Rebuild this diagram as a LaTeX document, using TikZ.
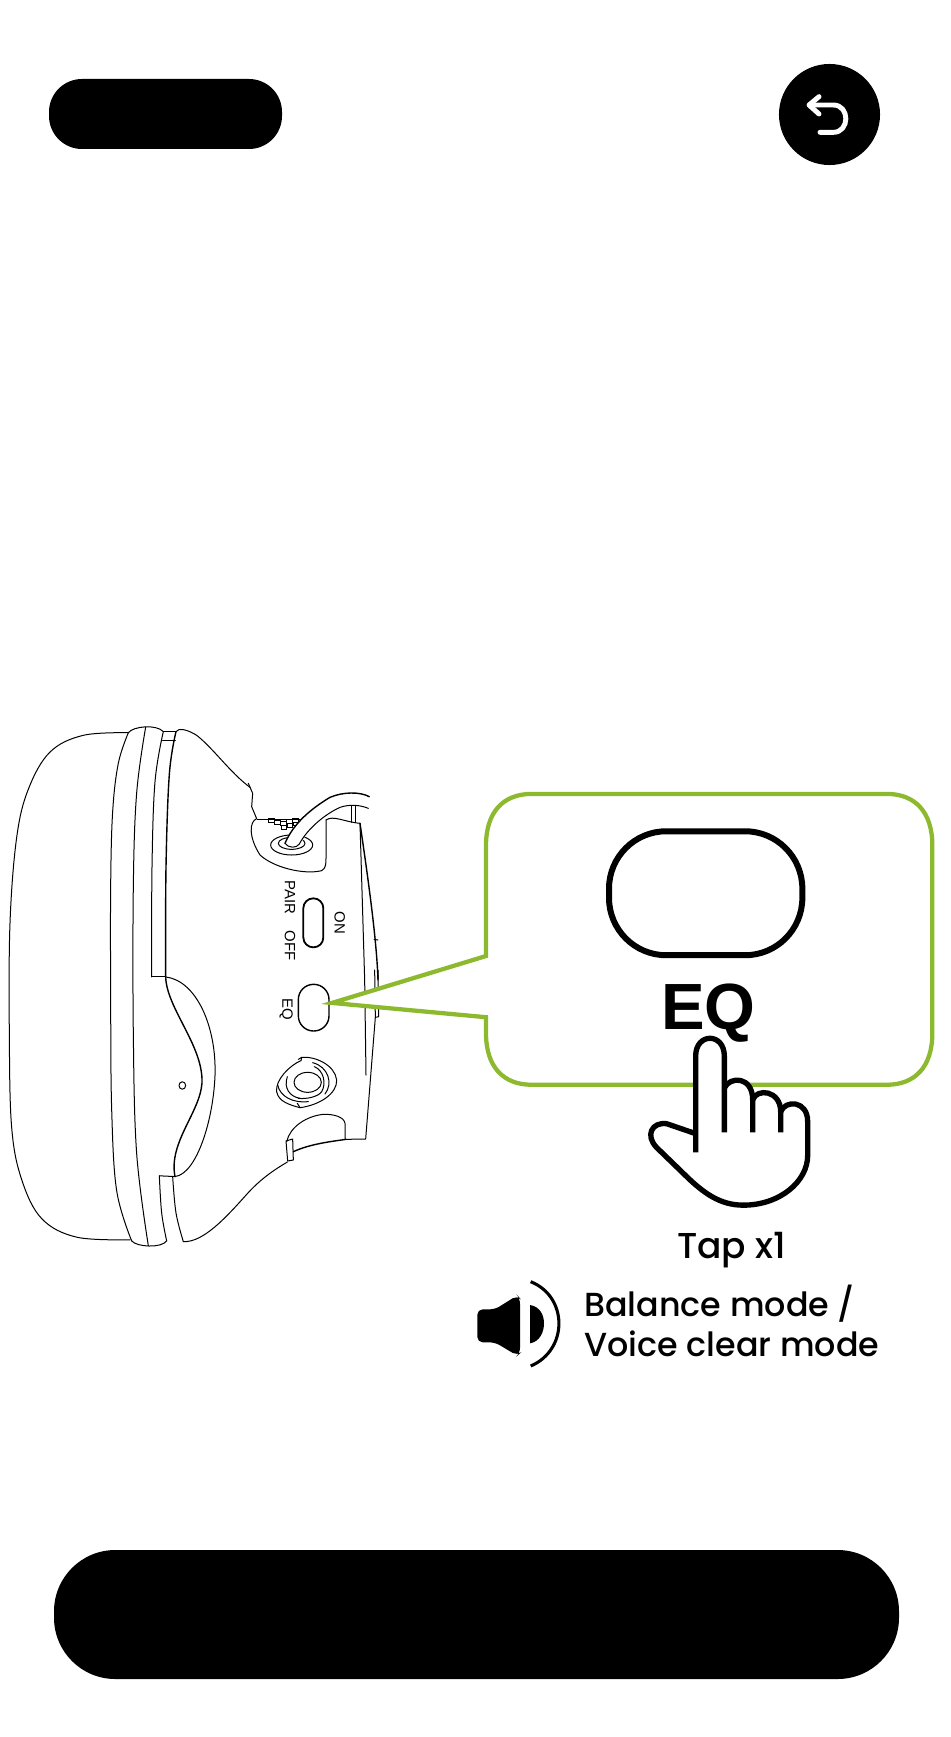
\documentclass[tikz,border=0pt]{standalone}
\usepackage{fontspec}
\setmainfont{Liberation Sans}
\newfontfamily\pop{Poppins Medium}
\definecolor{calloutgreen}{HTML}{8DB92E}
\tikzset{
  thin line/.style={line width=0.75pt,black,line join=round,line cap=round},
  mid line/.style={line width=1.05pt,black,line join=round,line cap=round},
  hand line/.style={line width=4pt,black,line cap=butt,line join=round},
  small label/.style={font=\fontsize{11.2pt}{12pt}\selectfont,rotate=-90,inner sep=0pt},
  z1/.style={shift={(0,700)},x=0.25pt,y=-0.2788pt},
  z2/.style={shift={(460,780)},x=0.25pt,y=-0.298pt},
  uni/.style={x=0.25pt,y=-0.25pt}
}
\begin{document}
\begin{tikzpicture}[x=0.75pt,y=-0.75pt]
\useasboundingbox (0,0) rectangle (950,1737);
\fill[white] (0,0) rectangle (950,1737);
% top bar, back button, bottom bar
\fill[black,rounded corners=24.75pt] (49,79) rectangle (282,149);
\fill[black] (829.5,114.5) circle[radius=37.9pt];
\begin{scope}[shift={(770,55)},uni]
\draw[white,line width=3.7pt,line cap=round,line join=round] (147,125) -- (117,150) -- (147,177);
\draw[white,line width=3.7pt,line cap=round,line join=round] (120,150) -- (190,150) .. controls (240,150) and (240,232) .. (190,232) -- (150,232);
\end{scope}
\fill[black,rounded corners=46pt] (54,1550) rectangle (899,1679);
% headphone, main outline (zoom-1 coordinates)
\begin{scope}[z1]
\draw[thin line] plot[smooth,tension=0.6] coordinates {(385,88) (250,95) (150,140) (85,240) (50,370) (30,600) (28,900) (35,1150) (65,1290) (125,1395) (230,1445) (390,1452)};
\draw[thin line] plot[smooth,tension=0.6] coordinates {(385,88) (355,170) (338,300) (332,500) (332,800) (335,1100) (350,1320) (395,1455)};
\draw[thin line] (385,88) .. controls (400,70) and (470,65) .. (490,85);
\draw[thin line] (395,1455) .. controls (410,1472) and (485,1475) .. (500,1455);
\draw[thin line] plot[smooth,tension=0.6] coordinates {(437,73) (410,250) (400,500) (400,900) (410,1220) (445,1468)};
\draw[thin line] plot[smooth,tension=0.6] coordinates {(490,85) (465,220) (456,450) (455,745)};
\draw[thin line] plot[smooth,tension=0.6] coordinates {(478,1280) (485,1380) (500,1455)};
\draw[thin line] (490,85) -- (528,85) (488,108) -- (526,108);
\draw[mid line] plot[smooth,tension=0.6] coordinates {(528,85) (508,200) (498,450) (497,745)};
\draw[thin line] (455,745) -- (497,745);
\draw[thin line] (497,745) .. controls (590,755) and (650,880) .. (645,1010) .. controls (640,1130) and (590,1275) .. (525,1282) -- (478,1280);
\draw[mid line] (497,745) .. controls (500,830) and (610,930) .. (606,1030) .. controls (600,1110) and (505,1190) .. (525,1282);
\draw[thin line] plot[smooth,tension=0.6] coordinates {(518,1282) (528,1380) (550,1457)};
\draw[thin line] (528,85) .. controls (535,75) and (560,78) .. (590,95) .. controls (640,130) and (690,195) .. (750,235);
\draw[thin line] (550,1457) .. controls (610,1460) and (680,1390) .. (740,1330) .. controls (780,1290) and (820,1265) .. (862,1243);
\draw[thin line] (547,1037) ellipse[x radius=10,y radius=10];
\end{scope}
% upper details (zoom-4 coordinates)
\begin{scope}[shift={(240,780)},uni]
\draw[thin line] (25,10) -- (38,40) -- (35,80) -- (50,116) .. controls (28,125) and (25,170) .. (60,225) .. controls (100,262) and (190,285) .. (245,272) .. controls (258,265) and (258,250) .. (258,235) -- (258,120);
\draw[thin line] (52,117) -- (180,117);
\draw[thin line] (258,120) .. controls (280,105) and (310,125) .. (360,130);
\foreach \gx/\gy in {86/116,104/121,122/124,140/118,158/116,124/136,142/130,160/126}
  \draw[line width=0.6pt] (\gx,\gy) rectangle ++(16,11);
\draw[thin line,fill=white] (155,195) ellipse[x radius=63,y radius=30];
\draw[thin line] (155,190) ellipse[x radius=40,y radius=18];
\fill[white] (135,195) .. controls (160,130) and (220,75) .. (300,50) -- (340,75) .. controls (260,90) and (205,140) .. (178,200) -- cycle;
\draw[mid line] (135,190) .. controls (160,130) and (215,85) .. (270,52) .. controls (310,35) and (360,35) .. (388,50);
\draw[thin line] (178,192) .. controls (200,150) and (250,105) .. (300,82) .. controls (330,72) and (360,75) .. (385,85);
\draw[thin line] (135,190) .. controls (145,205) and (170,205) .. (178,192);
\draw[thin line] (335,78) -- (335,127) (347,77) -- (347,128);
\draw[thin line] (360,130) -- (374,600);
\draw[mid line] (360,130) .. controls (385,300) and (410,480) .. (414,600);
\draw[thin line] (402,478) -- (414,480);
\node[small label,anchor=west] (pair) at (149.7,300) {PAIR};
\node[small label,anchor=west] (off) at (149.7,451) {OFF};
\node[small label,anchor=west] (on) at (299,395) {ON};
\draw[line width=1.35pt,black,rounded corners=7.4pt] (190,355) rectangle (250,502);
\end{scope}
% lower details (zoom-5 coordinates)
\begin{scope}[shift={(240,970)},uni]
\draw[thin line] (374,30) -- (378,315);
\draw[thin line] (404,0) -- (406,142) -- (416,140) -- (414,0);
\draw[thin line] (406,142) -- (377,507) -- (318,508);
\draw[thin line] (315,508) -- (315,460) .. controls (312,440) and (280,432) .. (250,433) .. controls (200,438) and (150,470) .. (140,515);
\draw[thin line] (138,513) -- (158,507) -- (160,570) -- (143,573) -- cycle;
\draw[mid line] (160,545) .. controls (210,522) and (270,515) .. (318,508);
\draw[thin line] (175,268) -- (185,262) .. controls (225,258) and (285,285) .. (290,330) .. controls (292,370) and (240,405) .. (180,413) -- (172,400);
\draw[thin line] (185,262) -- (183,272) .. controls (150,285) and (105,330) .. (110,365) .. controls (115,395) and (150,405) .. (180,413);
\draw[thin line] (203,337) ellipse[x radius=41,y radius=30];
\draw[thin line] (223,290) .. controls (250,300) and (260,340) .. (245,365) .. controls (235,380) and (200,388) .. (175,385);
\draw[thin line] (218,278) .. controls (265,290) and (280,340) .. (255,372);
\draw[thin line] (142,320) .. controls (130,355) and (150,380) .. (180,385);
\draw[thin line] (113,345) .. controls (120,380) and (160,400) .. (205,395);
\node[small label,anchor=west] (eqsmall) at (138.5,85) {EQ};
\draw[line width=1.05pt,black,rounded corners=11.4pt] (175,43) rectangle (267,183);
\end{scope}
% callout (zoom-2 coordinates)
\begin{scope}[z2]
\path[draw=calloutgreen,fill=white,line width=3.2pt,line join=miter]
  (-384,561) -- (78,443) -- (78,165) .. controls (78,80) and (130,35) .. (215,35) -- (1280,35) .. controls (1365,35) and (1417,80) .. (1417,165) -- (1417,637) .. controls (1417,722) and (1365,767) .. (1280,767) -- (215,767) .. controls (130,767) and (78,722) .. (78,637) -- (78,597) -- cycle;
\draw[line width=4.5pt,black,rounded corners=43pt] (447,129) rectangle (1027,441);
\node[anchor=base,inner sep=0pt,font=\bfseries\fontsize{49pt}{50pt}\selectfont] (eqbig) at (745,628) {EQ};
% hand
\fill[white] (707,890) -- (707,695) .. controls (707,635) and (793,635) .. (793,695) -- (793,775) .. controls (810,745) and (878,745) .. (878,805) .. controls (890,775) and (962,780) .. (962,835) .. controls (975,805) and (1043,805) .. (1043,860) -- (1043,945) .. controls (1043,1010) and (960,1070) .. (850,1070) .. controls (780,1070) and (730,1040) .. (670,990) -- (590,925) .. controls (555,895) and (575,860) .. (620,865) -- cycle;
\draw[hand line] (707,937) -- (707,695) .. controls (707,635) and (793,635) .. (793,695) -- (793,887);
\draw[hand line] (793,775) .. controls (810,745) and (878,745) .. (878,805) -- (878,887);
\draw[hand line] (878,805) .. controls (890,775) and (962,780) .. (962,835) -- (962,887);
\draw[hand line] (962,835) .. controls (975,805) and (1043,805) .. (1043,860) -- (1043,945) .. controls (1043,1010) and (960,1070) .. (850,1070) .. controls (780,1070) and (730,1040) .. (670,990) -- (590,925) .. controls (555,895) and (575,860) .. (620,865) -- (707,890);
\end{scope}
% labels
\node[anchor=base west,inner sep=0pt,font=\pop\fontsize{27pt}{30pt}\selectfont] (tap) at (677,1258) {Tap x1};
\node[anchor=base west,inner sep=0pt,font=\pop\fontsize{25pt}{28pt}\selectfont] (bal) at (584,1316) {Balance mode /};
\node[anchor=base west,inner sep=0pt,font=\pop\fontsize{25pt}{28pt}\selectfont] (voice) at (584,1356) {Voice clear mode};
% speaker
\begin{scope}[shift={(460,1260)},uni]
\fill[black,rounded corners=4pt] (52,148) -- (105,148) -- (172,106) -- (180,115) -- (180,280) -- (172,287) -- (105,247) -- (52,247) -- cycle;
\fill[black] (210,135) .. controls (240,140) and (252,165) .. (252,190) .. controls (252,215) and (240,245) .. (210,250) -- cycle;
\draw[line width=2.3pt,black] (212,65) .. controls (325,110) and (325,270) .. (212,318);
\end{scope}
\end{tikzpicture}
\end{document}
